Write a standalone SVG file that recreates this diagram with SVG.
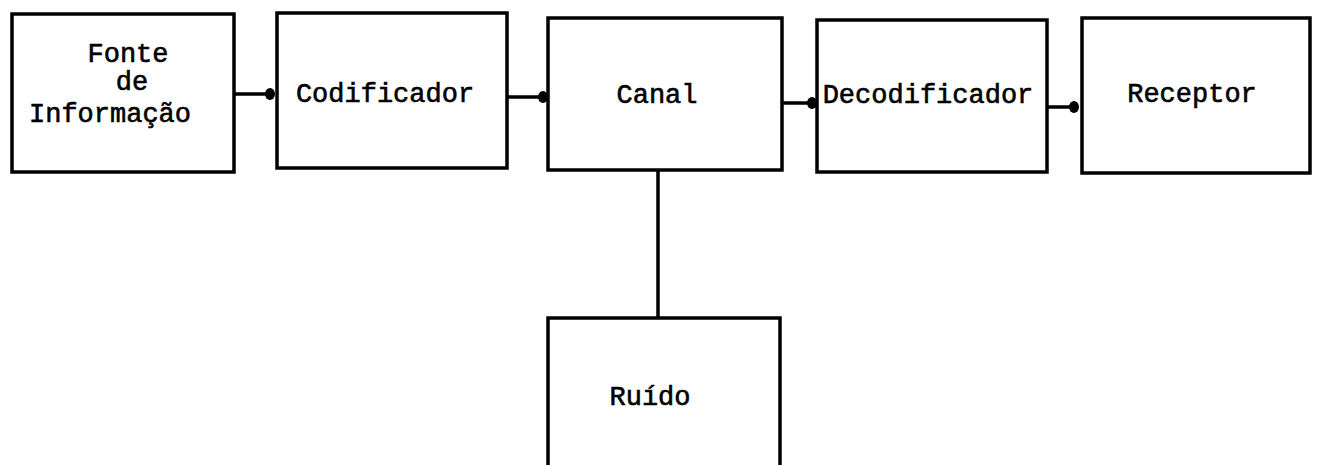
<svg xmlns="http://www.w3.org/2000/svg" width="1318" height="465" viewBox="0 0 1318 465">
<style>
.box{fill:#fff;stroke:#000;stroke-width:3.5;stroke-linejoin:miter}
.lbl{font-family:"Liberation Mono","Courier New",monospace;font-size:27px;fill:#000;stroke:#000;stroke-width:0.6;text-anchor:middle}
.conn{stroke:#000;stroke-width:3.5;fill:none}
.dot{fill:#000}
</style>
<rect width="1318" height="465" fill="#fff"/>
<g id="fonte">
<rect class="box" x="12" y="14" width="222" height="158"/>
<text class="lbl" x="128" y="62">Fonte</text>
<text class="lbl" x="132" y="90">de</text>
<text class="lbl" x="110" y="122">Informação</text>
</g>
<g id="codificador">
<rect class="box" x="277" y="13" width="230" height="155"/>
<text class="lbl" x="385" y="102">Codificador</text>
</g>
<g id="canal">
<rect class="box" x="548" y="18" width="234" height="152"/>
<text class="lbl" x="657" y="103">Canal</text>
</g>
<g id="decodificador">
<rect class="box" x="817" y="20" width="230" height="152"/>
<text class="lbl" x="928" y="103">Decodificador</text>
</g>
<g id="receptor">
<rect class="box" x="1082" y="18" width="228" height="155"/>
<text class="lbl" x="1192" y="102">Receptor</text>
</g>
<g id="ruido">
<rect class="box" x="548" y="318" width="232" height="170"/>
<text class="lbl" x="650" y="405">Ruído</text>
</g>
<g id="connectors">
<line class="conn" x1="234" y1="94" x2="272" y2="94"/>
<ellipse class="dot" cx="270" cy="94" rx="5" ry="6"/>
<line class="conn" x1="507" y1="97" x2="545" y2="97"/>
<ellipse class="dot" cx="543" cy="97" rx="5" ry="6"/>
<line class="conn" x1="782" y1="103" x2="814" y2="103"/>
<ellipse class="dot" cx="812" cy="103" rx="5" ry="6"/>
<line class="conn" x1="1047" y1="107" x2="1078" y2="107"/>
<ellipse class="dot" cx="1074" cy="107" rx="5" ry="6"/>
<line class="conn" x1="658" y1="170" x2="658" y2="318"/>
</g>
</svg>
